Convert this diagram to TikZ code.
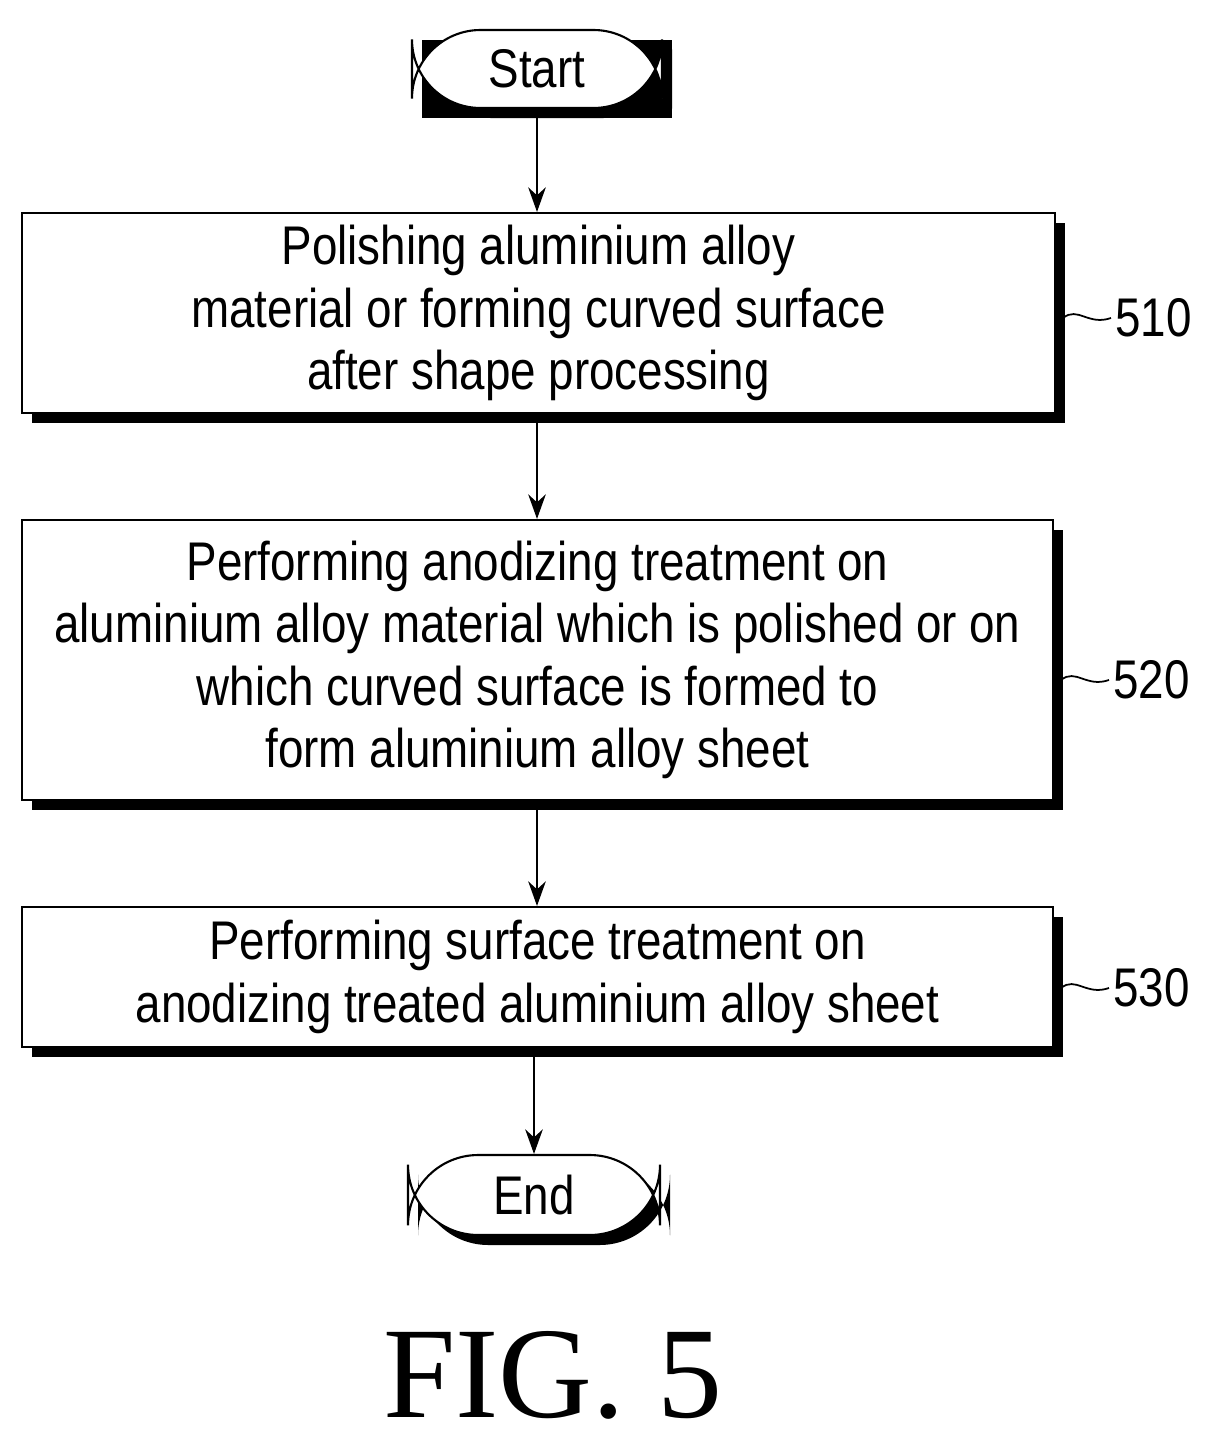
\documentclass[tikz,border=0pt]{standalone}
\usepackage{fontspec}
\setmainfont{Liberation Sans}[FakeStretch=0.84]
\newfontfamily\figfont{Liberation Serif}
\usetikzlibrary{positioning,calc,arrows.meta}
\newcommand*{\stepfont}{\fontsize{31}{35.5}\selectfont}

\begin{document}
\begin{tikzpicture}[x=0.02cm,y=-0.02cm,
  box/.style={draw,line width=1.2pt,fill=white,align=center,font=\stepfont,
    inner sep=0pt,
    double copy shadow/.style={}},
  shade/.style={fill=black},
  flow/.style={-{Stealth[length=14pt,width=10pt]},line width=1.2pt}]
\useasboundingbox (0,0) rectangle (1210,1444);
% Shadows behind the boxes
\fill (422,40) rectangle (672,118) [rounded corners=39pt];
\fill[rounded corners=39pt] (422,40) rectangle (672,118);
\fill (32,223) rectangle (1065,423);
\fill (32,530) rectangle (1063,810);
\fill (32,917) rectangle (1063,1057);
\fill[rounded corners=40pt] (418,1165) rectangle (670,1245);
% Terminals
\node[box,rounded corners=39pt,minimum width=250*0.02cm,minimum height=78*0.02cm]
  (start) at (537,69) {Start};
\node[box,rounded corners=40pt,minimum width=252*0.02cm,minimum height=80*0.02cm]
  (end) at (534,1195) {End};
% Process steps
\node[box,minimum width=1033*0.02cm,minimum height=200*0.02cm] (s510) at (538.5,313)
  {Polishing aluminium alloy\\material or forming curved surface\\after shape processing};
\node[box,minimum width=1031*0.02cm,minimum height=280*0.02cm] (s520) at (537.5,660)
  {Performing anodizing treatment on\\aluminium alloy material which is polished or on\\which curved surface is formed to\\form aluminium alloy sheet};
\node[box,minimum width=1031*0.02cm,minimum height=140*0.02cm] (s530) at (537.5,977)
  {Performing surface treatment on\\anodizing treated aluminium alloy sheet};
% Arrows
\draw[flow] (start) -- (start|-s510.north);
\draw[flow] (s510.south-|start) -- (start|-s520.north);
\draw[flow] (s520.south-|start) -- (start|-s530.north);
\draw[flow] (s530.south-|end) -- (end);
% Reference numerals
\foreach \n/\yy/\xx in {510/318/1063,520/680/1061,530/988/1061}{
  \draw[line width=1pt] (\xx,\yy) .. controls (\xx+15,\yy-12) and (\xx+25,\yy+8) .. (\xx+48,\yy);
  \node[font=\stepfont,anchor=west,inner sep=0pt] (n\n) at (\xx+52,\yy) {\n};
}
\node[font=\figfont\fontsize{74}{80}\selectfont] (fig) at (553,1375) {FIG. 5};
\end{tikzpicture}
\end{document}
